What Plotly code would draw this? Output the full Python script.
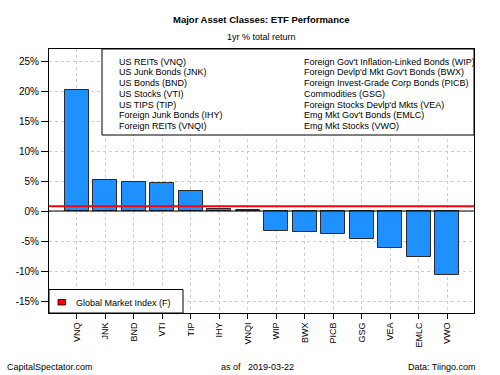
import plotly.graph_objects as go

tickers = ["VNQ", "JNK", "BND", "VTI", "TIP", "IHY", "VNQI",
           "WIP", "BWX", "PICB", "GSG", "VEA", "EMLC", "VWO"]
returns = [20.1, 5.1, 4.8, 4.6, 3.3, 0.4, 0.1,
           -3.35, -3.5, -3.9, -4.7, -6.1, -7.7, -10.7]
gmi_return = 0.8
legend_left = ["US REITs (VNQ)", "US Junk Bonds (JNK)", "US Bonds (BND)", "US Stocks (VTI)",
               "US TIPS (TIP)", "Foreign Junk Bonds (IHY)", "Foreign REITs (VNQI)"]
legend_right = ["Foreign Gov't Inflation-Linked Bonds (WIP)", "Foreign Devlp'd Mkt Gov't Bonds (BWX)",
                "Foreign Invest-Grade Corp Bonds (PICB)", "Commodities (GSG)",
                "Foreign Stocks Devlp'd Mkts (VEA)", "Emg Mkt Gov't Bonds (EMLC)", "Emg Mkt Stocks (VWO)"]
y_ticks = [-15, -10, -5, 0, 5, 10, 15, 20, 25]
y_ticklabels = [f"{v}%" for v in y_ticks]

FONT = "Liberation Sans, Arial, sans-serif"
W, H = 500, 375
L, R, T, B = 49, 26, 49, 62
pw, ph = W - L - R, H - T - B

def px_x(x):
    return (x - L) / pw

def px_y(y):
    return (H - B - y) / ph

fig = go.Figure()
fig.add_trace(go.Bar(
    x=tickers, y=returns, width=0.833,
    marker=dict(color="#1E90FF", line=dict(color="#2a2a2a", width=1)),
    showlegend=False, hoverinfo="x+y"))

shapes = []
shapes.append(dict(type="line", xref="paper", yref="y", x0=0, x1=1, y0=0, y1=0,
                   line=dict(color="#000000", width=1), layer="above"))
shapes.append(dict(type="line", xref="paper", yref="y", x0=0, x1=1, y0=gmi_return, y1=gmi_return,
                   line=dict(color="#FF0000", width=2), layer="above"))
shapes.append(dict(type="rect", xref="paper", yref="paper", x0=px_x(102), x1=1, y0=px_y(135), y1=1,
                   fillcolor="white", line=dict(color="#000000", width=1), layer="above"))
shapes.append(dict(type="rect", xref="paper", yref="paper", x0=0, x1=px_x(183), y0=0, y1=px_y(289.5),
                   fillcolor="white", line=dict(color="#000000", width=1), layer="above"))
shapes.append(dict(type="rect", xref="paper", yref="paper", x0=px_x(58), x1=px_x(65.5), y0=px_y(305), y1=px_y(299.5),
                   fillcolor="#FF0000", line=dict(color="#000000", width=0.8), layer="above"))

ann = []
row0, dy = 61.5, 10.75
for i, t in enumerate(legend_left):
    ann.append(dict(text=t, xref="paper", yref="paper", x=px_x(117), y=px_y(row0 + i * dy),
                    xanchor="left", yanchor="middle", showarrow=False,
                    font=dict(family=FONT, size=9, color="#000000")))
for i, t in enumerate(legend_right):
    ann.append(dict(text=t, xref="paper", yref="paper", x=px_x(302), y=px_y(row0 + i * dy),
                    xanchor="left", yanchor="middle", showarrow=False,
                    font=dict(family=FONT, size=9, color="#000000")))
ann.append(dict(text="Global Market Index (F)", xref="paper", yref="paper", x=px_x(74), y=px_y(302.5),
                xanchor="left", yanchor="middle", showarrow=False,
                font=dict(family=FONT, size=9, color="#000000")))
ann.append(dict(text="<b>Major Asset Classes: ETF Performance</b>", xref="paper", yref="paper",
                x=0.5, y=px_y(20), xanchor="center", yanchor="middle", showarrow=False,
                font=dict(family=FONT, size=9.5, color="#000000")))
ann.append(dict(text="1yr % total return", xref="paper", yref="paper",
                x=0.5, y=px_y(36.5), xanchor="center", yanchor="middle", showarrow=False,
                font=dict(family=FONT, size=9, color="#000000")))
ann.append(dict(text="CapitalSpectator.com", xref="paper", yref="paper",
                x=px_x(5), y=px_y(367), xanchor="left", yanchor="middle", showarrow=False,
                font=dict(family=FONT, size=9, color="#000000")))
ann.append(dict(text="as of   2019-03-22", xref="paper", yref="paper",
                x=px_x(257), y=px_y(367), xanchor="center", yanchor="middle", showarrow=False,
                font=dict(family=FONT, size=9, color="#000000")))
ann.append(dict(text="Data: Tiingo.com", xref="paper", yref="paper",
                x=px_x(478), y=px_y(367), xanchor="right", yanchor="middle", showarrow=False,
                font=dict(family=FONT, size=9, color="#000000")))

fig.update_layout(
    width=W, height=H, margin=dict(l=L, r=R, t=T, b=B, pad=0),
    paper_bgcolor="white", plot_bgcolor="white",
    shapes=shapes, annotations=ann, bargap=0,
    font=dict(family=FONT, size=9, color="#000000"),
    xaxis=dict(type="category", categoryorder="array", categoryarray=tickers,
               range=[-0.97, 13.94], showgrid=True, gridcolor="#cccccc", griddash="dot", gridwidth=1,
               showline=True, mirror=True, linecolor="#000000", linewidth=1,
               ticks="outside", ticklen=5, tickcolor="#000000", tickangle=-90,
               tickfont=dict(family=FONT, size=9, color="#000000"), zeroline=False, fixedrange=True),
    yaxis=dict(range=[-17, 27], tickvals=y_ticks, ticktext=y_ticklabels,
               showgrid=True, gridcolor="#cccccc", griddash="dot", gridwidth=1,
               showline=True, mirror=True, linecolor="#000000", linewidth=1,
               ticks="outside", ticklen=7, tickcolor="#000000",
               tickfont=dict(family=FONT, size=10, color="#000000"), zeroline=False, fixedrange=True),
)

fig.write_html("out.html", config={"displayModeBar": False},
               post_script="document.body.style.margin='0px';document.body.style.overflow='hidden';")
